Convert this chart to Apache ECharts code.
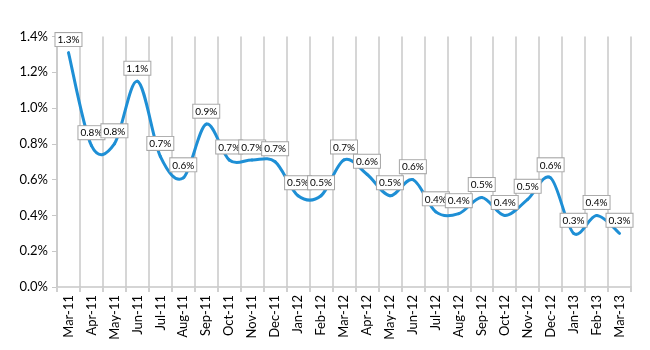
<!DOCTYPE html>
<html lang="en">
<head>
    <meta charset="UTF-8">
    <title>Monthly rate</title>
    <script src="https://cdn.jsdelivr.net/npm/echarts@6.0.0/dist/echarts.min.js"></script>
    <style>
        html, body { margin: 0; padding: 0; background: #fff; }
        #main { width: 650px; height: 350px; }
    </style>
</head>
<body>
    <div id="main"></div>
    <script>
        // months, Mar-11 .. Mar-13
        var months = ['Mar-11', 'Apr-11', 'May-11', 'Jun-11', 'Jul-11', 'Aug-11', 'Sep-11', 'Oct-11', 'Nov-11',
            'Dec-11', 'Jan-12', 'Feb-12', 'Mar-12', 'Apr-12', 'May-12', 'Jun-12', 'Jul-12', 'Aug-12', 'Sep-12',
            'Oct-12', 'Nov-12', 'Dec-12', 'Jan-13', 'Feb-13', 'Mar-13'];
        // values in percent
        var rates = [1.31, 0.79, 0.80, 1.15, 0.73, 0.61, 0.91, 0.71, 0.71,
            0.70, 0.51, 0.51, 0.71, 0.63, 0.51, 0.60, 0.42, 0.41, 0.50,
            0.40, 0.49, 0.61, 0.30, 0.40, 0.30];
        var yTicks = [0, 0.2, 0.4, 0.6, 0.8, 1.0, 1.2, 1.4];

        var font = 'Lato, "Open Sans", sans-serif';
        var lineColor = '#1e8fd5';
        var chart = echarts.init(document.getElementById('main'));

        // Excel-like smoothing: catmull-rom segment between point i and i+1
        function renderCurve(params, api) {
            var i = params.dataIndex;
            if (i >= rates.length - 1) return;
            var pt = function (k) {
                k = Math.max(0, Math.min(rates.length - 1, k));
                return api.coord([k, rates[k]]);
            };
            var p0 = pt(i - 1), p1 = pt(i), p2 = pt(i + 1), p3 = pt(i + 2);
            return {
                type: 'bezierCurve',
                shape: {
                    x1: p1[0], y1: p1[1], x2: p2[0], y2: p2[1],
                    cpx1: p1[0] + (p2[0] - p0[0]) / 6, cpy1: p1[1] + (p2[1] - p0[1]) / 6,
                    cpx2: p2[0] - (p3[0] - p1[0]) / 6, cpy2: p2[1] - (p3[1] - p1[1]) / 6
                },
                style: { stroke: lineColor, lineWidth: 3, fill: null, lineCap: 'round' }
            };
        }

        chart.setOption({
            animation: false,
            grid: { left: 57, right: 19, top: 36.5, bottom: 63, containLabel: false, outerBoundsMode: 'none' },
            xAxis: {
                type: 'category',
                data: months,
                boundaryGap: true,
                axisLine: { lineStyle: { color: '#c8c8c8', width: 1.5 } },
                axisTick: { show: true, length: 5, lineStyle: { color: '#d0d0d0', width: 2 } },
                splitLine: { show: true, lineStyle: { color: '#d6d6d6', width: 2 } },
                axisLabel: {
                    rotate: 90, interval: 0, margin: 8,
                    color: '#000', fontSize: 13, fontFamily: font
                }
            },
            yAxis: {
                type: 'value',
                min: yTicks[0],
                max: yTicks[yTicks.length - 1],
                interval: 0.2,
                axisLine: { show: true, lineStyle: { color: '#c8c8c8', width: 1.5 } },
                axisTick: { show: true, length: 5, lineStyle: { color: '#c8c8c8' } },
                splitLine: { show: false },
                axisLabel: {
                    margin: 9, color: '#000', fontSize: 13, fontFamily: font,
                    formatter: function (v) { return v.toFixed(1) + '%'; }
                }
            },
            series: [{
                type: 'custom',
                renderItem: renderCurve,
                data: rates.map(function (v, i) { return [i, v]; }),
                encode: { x: 0, y: 1 },
                silent: true
            }, {
                // invisible line, only carries the data labels
                type: 'line',
                data: rates,
                showSymbol: true,
                symbol: 'circle',
                symbolSize: 1,
                itemStyle: { color: 'rgba(0,0,0,0)' },
                lineStyle: { opacity: 0 },
                z: 3,
                label: {
                    show: true,
                    position: 'top',
                    distance: 6,
                    color: '#000',
                    fontSize: 10,
                    fontFamily: font,
                    backgroundColor: '#fff',
                    borderColor: '#a6a6a6',
                    borderWidth: 1,
                    padding: [2, 2, 1, 2],
                    formatter: function (p) { return p.value.toFixed(1) + '%'; }
                }
            }]
        });
    </script>
</body>
</html>
